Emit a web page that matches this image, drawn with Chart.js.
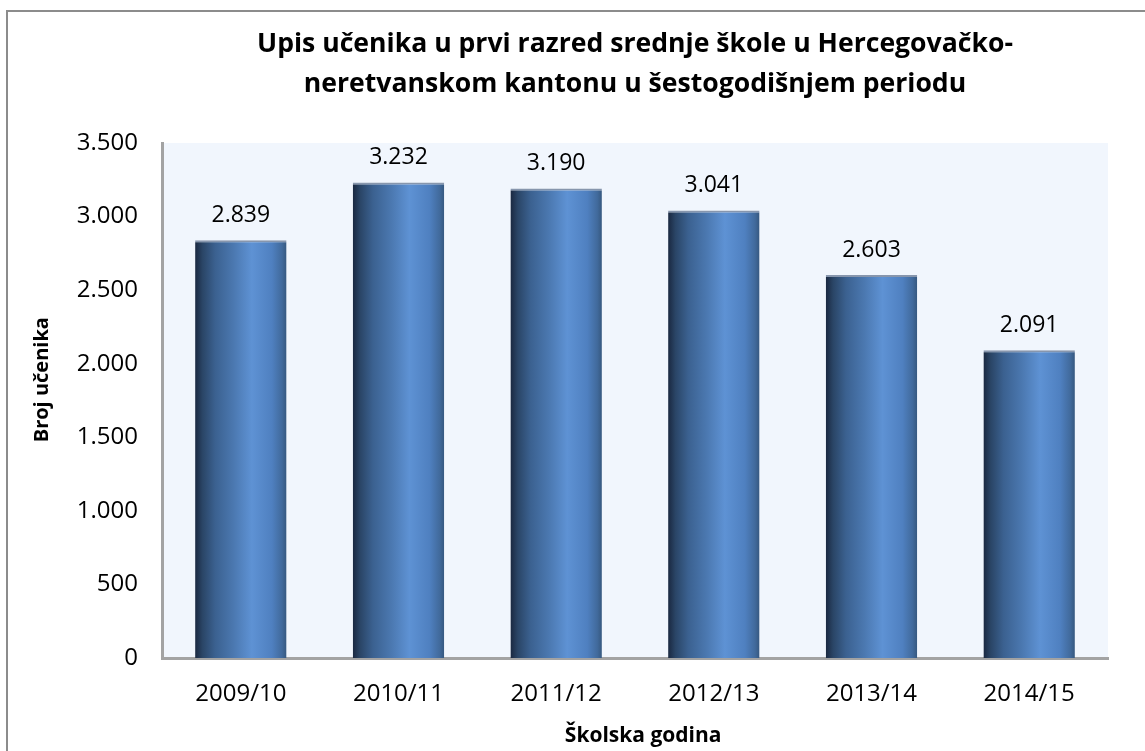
<!DOCTYPE html>
<html>
<head>
<meta charset="utf-8">
<script src="https://cdn.jsdelivr.net/npm/chart.js@4.4.1/dist/chart.umd.min.js"></script>
<style>
  html, body { margin: 0; padding: 0; background: #ffffff; }
  #wrap { width: 1145px; height: 751px; position: relative; }
</style>
</head>
<body>
<div id="wrap"><canvas id="c" width="1145" height="751"></canvas></div>
<script>
const categories = ['2009/10', '2010/11', '2011/12', '2012/13', '2013/14', '2014/15'];
const enrolled = [2839, 3232, 3190, 3041, 2603, 2091];
const yTickValues = [0, 500, 1000, 1500, 2000, 2500, 3000, 3500];
const yTickLabels = ['0', '500', '1.000', '1.500', '2.000', '2.500', '3.000', '3.500'];
const chartTitle = ['Upis učenika u prvi razred srednje škole u Hercegovačko-', 'neretvanskom kantonu u šestogodišnjem periodu'];
const xTitle = 'Školska godina';
const yTitle = 'Broj učenika';

const FONT = "'Open Sans', 'DejaVu Sans', sans-serif";
const BAR_PCT = 0.58;

function fmt(v) {
  return String(v).replace(/\B(?=(\d{3})+(?!\d))/g, '.');
}

function barGradient(ctx) {
  const chart = ctx.chart;
  const area = chart.chartArea;
  const xs = chart.scales && chart.scales.x;
  if (!area || !xs) return '#4a78b0';
  const cx = xs.getPixelForValue(ctx.dataIndex);
  const w = (area.right - area.left) / categories.length * BAR_PCT;
  const g = chart.ctx.createLinearGradient(cx - w / 2, 0, cx + w / 2, 0);
  g.addColorStop(0.00, '#1a2840');
  g.addColorStop(0.08, '#2a4566');
  g.addColorStop(0.22, '#3b6190');
  g.addColorStop(0.42, '#4b78b0');
  g.addColorStop(0.62, '#5e92d4');
  g.addColorStop(0.84, '#4f80c0');
  g.addColorStop(0.95, '#416a9c');
  g.addColorStop(1.00, '#36587f');
  return g;
}

const framePlugin = {
  id: 'frame',
  beforeDraw(chart) {
    const c = chart.ctx;
    const a = chart.chartArea;
    c.save();
    c.fillStyle = '#ffffff';
    c.fillRect(0, 0, chart.width, chart.height);
    c.strokeStyle = '#8c8c8c';
    c.lineWidth = 2;
    c.strokeRect(7, 11, chart.width + 20, chart.height + 20);
    c.fillStyle = '#f1f6fd';
    c.fillRect(a.left, a.top, a.right - a.left, a.bottom - a.top);
    c.restore();
  }
};

const valueLabels = {
  id: 'valueLabels',
  afterDatasetsDraw(chart) {
    const c = chart.ctx;
    const meta = chart.getDatasetMeta(0);
    c.save();
    c.font = "23px " + FONT;
    c.fillStyle = '#000000';
    c.textAlign = 'center';
    c.textBaseline = 'middle';
    meta.data.forEach((bar, i) => {
      c.fillText(fmt(enrolled[i]), bar.x, bar.y - 25);
    });
    c.restore();
  }
};

new Chart(document.getElementById('c'), {
  type: 'bar',
  data: {
    labels: categories,
    datasets: [{
      data: enrolled,
      backgroundColor: barGradient,
      borderColor: '#8796ad',
      borderWidth: { top: 2, left: 0, right: 0, bottom: 0 },
      borderSkipped: 'bottom',
      barPercentage: BAR_PCT,
      categoryPercentage: 1.0
    }]
  },
  options: {
    responsive: false,
    animation: false,
    devicePixelRatio: 1,
    layout: { padding: { left: 0, right: 37, top: 0, bottom: 0 } },
    plugins: {
      legend: { display: false },
      tooltip: { enabled: false },
      title: {
        display: true,
        fullSize: false,
        text: chartTitle,
        color: '#000000',
        font: { family: FONT, size: 26.6, weight: 'bold', lineHeight: '40px' },
        padding: { top: 24, bottom: 39 }
      }
    },
    scales: {
      x: {
        grid: { display: false, drawTicks: false },
        border: { display: true, color: '#a3a3a3', width: 3 },
        ticks: { color: '#000000', font: { family: FONT, size: 24 }, padding: 22, maxRotation: 0 },
        title: { display: true, text: '   ' + xTitle, color: '#000000', font: { family: FONT, size: 21, weight: 'bold', lineHeight: 1.2 }, padding: { top: 0, bottom: 2 } },
        afterFit(s) { s.height = 93; }
      },
      y: {
        min: 0,
        max: 3500,
        grid: { display: false, drawTicks: false },
        border: { display: true, color: '#a3a3a3', width: 3 },
        afterBuildTicks(s) { s.ticks = yTickValues.map(v => ({ value: v })); },
        ticks: {
          color: '#000000',
          font: { family: FONT, size: 24 },
          padding: 24,
          callback: (v) => yTickLabels[yTickValues.indexOf(v)]
        },
        title: { display: true, text: '        ' + yTitle, color: '#000000', font: { family: FONT, size: 20, weight: 'bold', lineHeight: 1.2 }, padding: { top: 30, bottom: 0 } },
        afterFit(s) { s.width = 162; }
      }
    }
  },
  plugins: [framePlugin, valueLabels]
});
</script>
</body>
</html>
